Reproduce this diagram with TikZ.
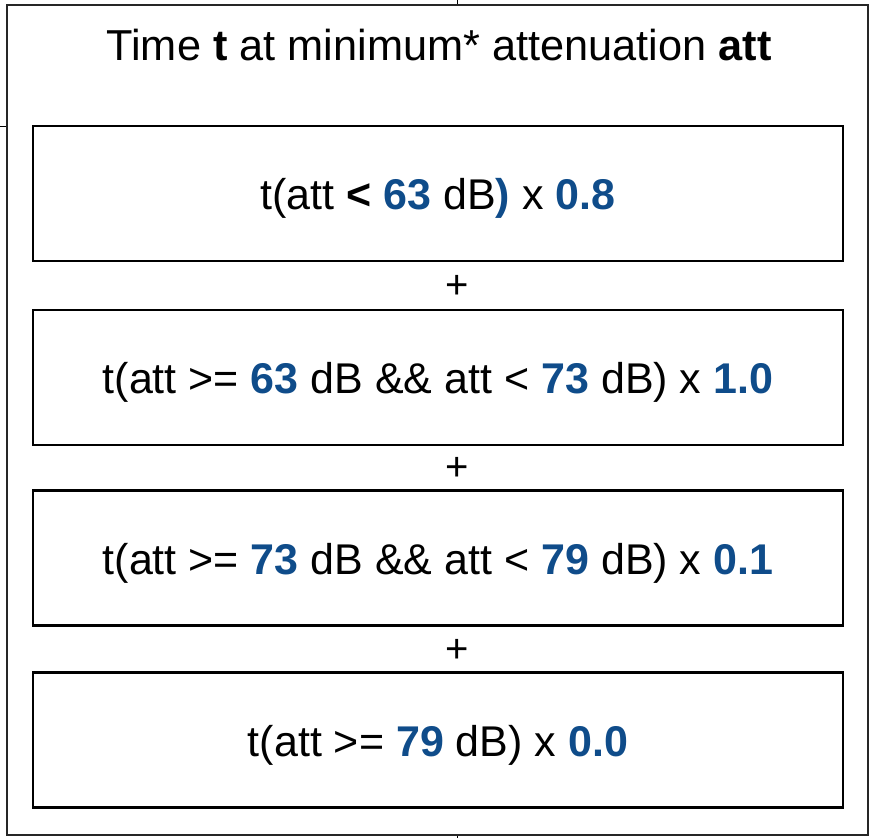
\documentclass[tikz,border=0pt]{standalone}
\usepackage{fontspec}
\setmainfont{Liberation Sans}
\definecolor{valblue}{HTML}{0F4C8A}
\begin{document}
\begin{tikzpicture}[x=1pt,y=-1pt,
  outerbox/.style={draw=black!85,line width=2pt},
  termbox/.style={draw=black,line width=2.4pt,minimum width=810pt,minimum height=135pt,inner sep=0pt,text height=32pt,text depth=0pt,font=\fontsize{43}{47}\selectfont},
  plus/.style={font=\fontsize{40}{44}\selectfont,inner sep=0pt}
]
\useasboundingbox (0,0) rectangle (874,838);
\node[outerbox,minimum width=861pt,minimum height=830pt,inner sep=0pt] (outer) at (437.5,420) {};
\node[font=\fontsize{43.3}{47}\selectfont] (title) at (439,45.5) {Time \textbf{t} at minimum* attenuation \textbf{att}};
\newcommand{\vb}[1]{\textcolor{valblue}{\textbf{#1}}}
\node[termbox] (b1) at (438,193.5) {t(att \textbf{<} \vb{63} dB\vb{)} x \vb{0.8}};
\node[termbox] (b2) at (438,377.5) {t(att >= \vb{63} dB \&\& att < \vb{73} dB) x \vb{1.0}};
\node[termbox] (b3) at (438,558) {t(att >= \vb{73} dB \&\& att < \vb{79} dB) x \vb{0.1}};
\node[termbox] (b4) at (438,740) {t(att >= \vb{79} dB) x \vb{0.0}};
\node[plus] (p1) at (457,287) {+};
\node[plus] (p2) at (457,469) {+};
\node[plus] (p3) at (457,651) {+};
\coordinate (topin) at (457,0);
\coordinate (leftin) at (0,126);
\coordinate (botout) at (457,838);
\draw[line width=1pt] (topin) -- (outer.north -| topin);
\draw[line width=1pt] (leftin) -- (outer.west |- leftin);
\draw[line width=1pt] (outer.south -| botout) -- (botout);
\end{tikzpicture}
\end{document}
